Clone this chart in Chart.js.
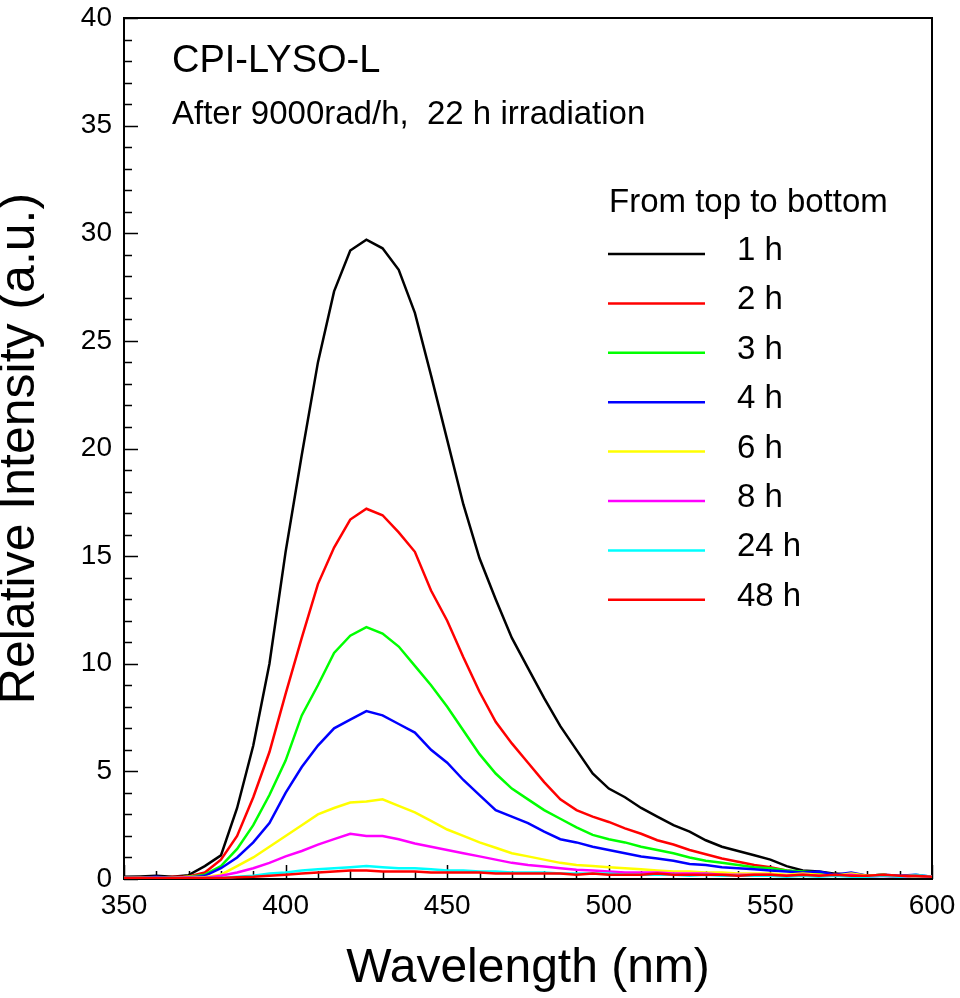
<!DOCTYPE html>
<html>
<head>
<meta charset="utf-8">
<title>CPI-LYSO-L</title>
<script src="https://cdn.jsdelivr.net/npm/chart.js@4.4.1/dist/chart.umd.min.js"></script>
<style>
  body { margin: 0; background: #fff; }
  canvas { display: block; }
</style>
</head>
<body>
<canvas id="spectrumChart" width="960" height="998"></canvas>
<script>
// wavelength grid (nm)
const wavelengths = [350, 355, 360, 365, 370, 375, 380, 385, 390, 395, 400, 405, 410, 415, 420, 425, 430, 435, 440, 445, 450,
    455, 460, 465, 470, 475, 480, 485, 490, 495, 500, 505, 510, 515, 520, 525, 530, 535, 540, 545, 550,
    555, 560, 565, 570, 575, 580, 585, 590, 595, 600];

// relative intensity, one list per delay
const h1 = [0.10, 0.12, 0.15, 0.10, 0.18, 0.60, 1.1, 3.3, 6.2, 10.0, 15.2, 19.7, 24.0, 27.3, 29.2, 29.7, 29.3, 28.3, 26.3, 23.4, 20.4,
    17.4, 14.9, 13.0, 11.2, 9.8, 8.4, 7.1, 6.0, 4.9, 4.2, 3.8, 3.3, 2.9, 2.5, 2.2, 1.8, 1.5, 1.3, 1.1, 0.9,
    0.6, 0.4, 0.35, 0.25, 0.2, 0.15, 0.2, 0.1, 0.15, 0.1];
const h2 = [0.05, 0.08, 0.05, 0.10, 0.12, 0.30, 0.9, 2.0, 3.8, 5.9, 8.6, 11.2, 13.7, 15.4, 16.7, 17.2, 16.9, 16.1, 15.2, 13.4, 12.0,
    10.3, 8.7, 7.3, 6.3, 5.4, 4.5, 3.7, 3.2, 2.9, 2.65, 2.35, 2.1, 1.8, 1.6, 1.35, 1.15, 0.95, 0.8, 0.65, 0.55,
    0.4, 0.3, 0.25, 0.2, 0.2, 0.15, 0.15, 0.1, 0.15, 0.1];
const h3 = [0.05, 0.05, 0.08, 0.05, 0.10, 0.20, 0.6, 1.4, 2.5, 3.9, 5.5, 7.6, 9.0, 10.5, 11.3, 11.7, 11.4, 10.8, 9.9, 9.0, 8.0,
    6.9, 5.8, 4.9, 4.2, 3.7, 3.2, 2.8, 2.4, 2.05, 1.85, 1.7, 1.5, 1.35, 1.2, 1.0, 0.85, 0.75, 0.65, 0.55, 0.5,
    0.4, 0.35, 0.3, 0.2, 0.25, 0.15, 0.2, 0.1, 0.15, 0.1];
const h4 = [0.05, 0.05, 0.10, 0.05, 0.08, 0.15, 0.5, 1.0, 1.7, 2.6, 4.0, 5.2, 6.2, 7.0, 7.4, 7.8, 7.6, 7.2, 6.8, 6.0, 5.4,
    4.6, 3.9, 3.2, 2.9, 2.6, 2.2, 1.85, 1.7, 1.5, 1.35, 1.2, 1.05, 0.95, 0.85, 0.7, 0.65, 0.55, 0.5, 0.45, 0.4,
    0.35, 0.3, 0.35, 0.2, 0.3, 0.15, 0.2, 0.15, 0.2, 0.1];
const h6 = [0.05, 0.05, 0.05, 0.05, 0.10, 0.08, 0.2, 0.6, 1.0, 1.5, 2.0, 2.5, 3.0, 3.3, 3.55, 3.6, 3.7, 3.4, 3.1, 2.7, 2.3,
    2.0, 1.7, 1.45, 1.2, 1.05, 0.9, 0.75, 0.65, 0.6, 0.55, 0.5, 0.45, 0.4, 0.35, 0.35, 0.3, 0.3, 0.25, 0.25, 0.25,
    0.2, 0.25, 0.2, 0.15, 0.25, 0.15, 0.2, 0.1, 0.15, 0.1];
const h8 = [0.05, 0.05, 0.05, 0.05, 0.08, 0.05, 0.15, 0.3, 0.5, 0.75, 1.05, 1.3, 1.6, 1.85, 2.1, 2.0, 2.0, 1.85, 1.65, 1.5, 1.35,
    1.2, 1.05, 0.9, 0.75, 0.65, 0.58, 0.5, 0.43, 0.4, 0.35, 0.3, 0.3, 0.3, 0.25, 0.25, 0.25, 0.2, 0.2, 0.2, 0.2,
    0.15, 0.2, 0.15, 0.15, 0.2, 0.1, 0.15, 0.1, 0.15, 0.1];
const h24 = [0.05, 0.05, 0.05, 0.05, 0.05, 0.05, 0.05, 0.1, 0.15, 0.25, 0.3, 0.4, 0.45, 0.5, 0.55, 0.6, 0.55, 0.5, 0.5, 0.45, 0.4,
    0.4, 0.35, 0.35, 0.3, 0.3, 0.3, 0.25, 0.25, 0.25, 0.25, 0.2, 0.2, 0.2, 0.2, 0.15, 0.2, 0.15, 0.15, 0.15, 0.15,
    0.1, 0.15, 0.1, 0.15, 0.1, 0.1, 0.15, 0.1, 0.2, 0.1];
const h48 = [0.05, 0.05, 0.05, 0.05, 0.05, 0.05, 0.05, 0.08, 0.1, 0.15, 0.2, 0.25, 0.3, 0.35, 0.4, 0.4, 0.35, 0.35, 0.35, 0.3, 0.3,
    0.3, 0.3, 0.25, 0.25, 0.25, 0.25, 0.25, 0.2, 0.25, 0.2, 0.2, 0.2, 0.25, 0.2, 0.2, 0.2, 0.2, 0.15, 0.2, 0.2,
    0.15, 0.2, 0.15, 0.2, 0.15, 0.15, 0.2, 0.15, 0.15, 0.1];

const seriesLabels = ['1 h', '2 h', '3 h', '4 h', '6 h', '8 h', '24 h', '48 h'];
const seriesValues = [h1, h2, h3, h4, h6, h8, h24, h48];
const seriesColors = ['#000000', '#ff0000', '#00ff00', '#0000ff', '#ffff00', '#ff00ff', '#00ffff', '#ff0000'];

const xTicks = [350, 400, 450, 500, 550, 600];
const yTicks = [0, 5, 10, 15, 20, 25, 30, 35, 40];

const FONT = '"Liberation Sans", Arial, Helvetica, sans-serif';

// frame + inward ticks, drawn under the curves
const frameTicks = {
    id: 'frameTicks',
    beforeDatasetsDraw(chart) {
        const ctx = chart.ctx;
        const area = chart.chartArea;
        const xs = chart.scales.x;
        const ys = chart.scales.y;
        ctx.save();
        ctx.strokeStyle = '#000';
        ctx.lineWidth = 2;
        ctx.strokeRect(area.left, area.top, area.right - area.left, area.bottom - area.top);

        ctx.lineWidth = 1.5;
        ctx.beginPath();
        for (let v = xs.min; v <= xs.max; v += 10) {
            const px = Math.round(xs.getPixelForValue(v)) + 0.5;
            const len = v % 50 === 0 ? 14 : 8;
            ctx.moveTo(px, area.bottom);
            ctx.lineTo(px, area.bottom - len);
        }
        for (let v = ys.min; v <= ys.max; v += 1) {
            const py = Math.round(ys.getPixelForValue(v)) + 0.5;
            const len = v % 5 === 0 ? 14 : 8;
            ctx.moveTo(area.left, py);
            ctx.lineTo(area.left + len, py);
        }
        ctx.stroke();
        ctx.restore();
    }
};

// annotation text and the hand-placed legend
const annotations = {
    id: 'annotations',
    afterDraw(chart) {
        const ctx = chart.ctx;
        ctx.save();
        ctx.fillStyle = '#000';
        ctx.textBaseline = 'alphabetic';
        ctx.textAlign = 'left';
        ctx.font = '38px ' + FONT;
        ctx.fillText('CPI-LYSO-L', 172, 72);
        ctx.font = '33px ' + FONT;
        ctx.fillText('After 9000rad/h,  22 h irradiation', 172, 124);

        ctx.fillText('From top to bottom', 609, 212);
        chart.data.datasets.forEach((ds, i) => {
            const y = 254 + i * 49.4;
            ctx.strokeStyle = ds.borderColor;
            ctx.lineWidth = 2.5;
            ctx.beginPath();
            ctx.moveTo(608, y);
            ctx.lineTo(705, y);
            ctx.stroke();
            ctx.fillText(ds.label, 737, y + 6);
        });
        ctx.restore();
    }
};

const datasets = seriesValues.map((vals, i) => ({
    label: seriesLabels[i],
    data: vals.map((v, j) => ({ x: wavelengths[j], y: v })),
    borderColor: seriesColors[i],
    backgroundColor: seriesColors[i],
    borderWidth: 2.5,
    pointRadius: 0,
    tension: 0,
    fill: false,
    order: seriesValues.length - i
}));

new Chart(document.getElementById('spectrumChart').getContext('2d'), {
    type: 'line',
    data: { datasets: datasets },
    options: {
        responsive: false,
        devicePixelRatio: 1,
        animation: false,
        layout: { padding: { top: 18, right: 28, left: 0, bottom: 0 } },
        plugins: {
            legend: { display: false },
            tooltip: { enabled: false },
            title: { display: false }
        },
        scales: {
            x: {
                type: 'linear',
                min: 350,
                max: 600,
                afterBuildTicks: s => { s.ticks = xTicks.map(v => ({ value: v })); },
                afterFit: s => { s.height = 119; s.paddingLeft = 0; s.paddingRight = 0; },
                grid: { display: false, drawTicks: false },
                border: { display: false },
                ticks: { color: '#000', font: { family: FONT, size: 28 }, padding: 10, maxRotation: 0 },
                title: {
                    display: true,
                    text: 'Wavelength (nm)',
                    color: '#000',
                    font: { family: FONT, size: 48, lineHeight: 1.2 },
                    padding: 0
                }
            },
            y: {
                min: 0,
                max: 40,
                afterBuildTicks: s => { s.ticks = yTicks.map(v => ({ value: v })); },
                afterFit: s => { s.width = 124; s.paddingTop = 0; s.paddingBottom = 0; },
                grid: { display: false, drawTicks: false },
                border: { display: false },
                ticks: { color: '#000', font: { family: FONT, size: 28 }, padding: 12 },
                title: {
                    display: true,
                    text: 'Relative Intensity (a.u.)',
                    color: '#000',
                    font: { family: FONT, size: 50, lineHeight: 0.82 },
                    padding: 0
                }
            }
        }
    },
    plugins: [frameTicks, annotations]
});
</script>
</body>
</html>
